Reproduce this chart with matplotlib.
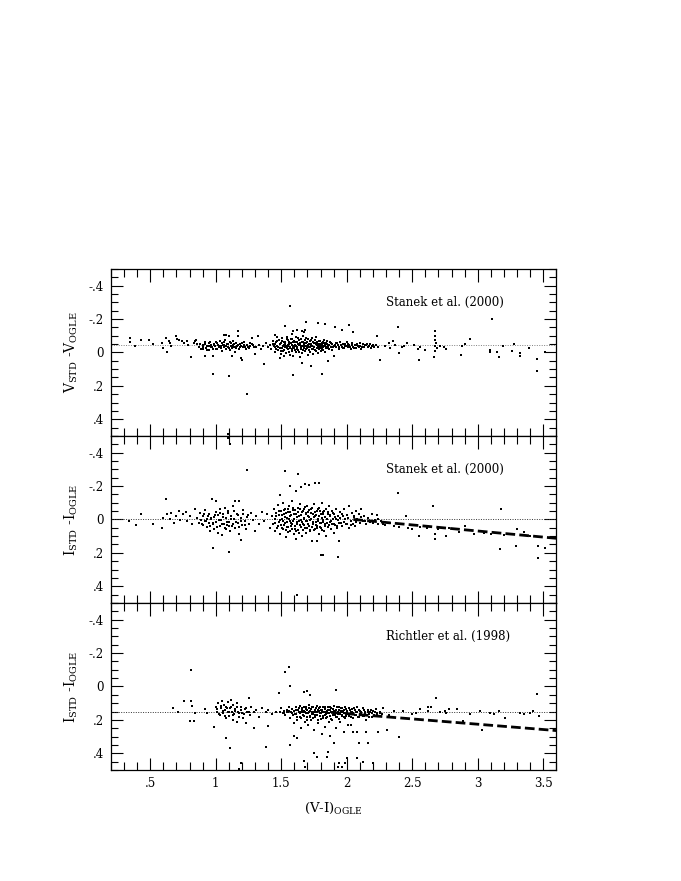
import numpy as np
import matplotlib
matplotlib.use('Agg')
import matplotlib.pyplot as plt
from matplotlib.ticker import MultipleLocator, FuncFormatter

plt.rcParams['font.family'] = ['DejaVu Serif']
plt.rcParams['mathtext.fontset'] = 'dejavuserif'

# V_STD - V_OGLE vs (V-I), Stanek et al. (2000)
v_pts = [
    (0.345, -0.086), (0.345, -0.062), (0.38, -0.04), (0.43, -0.077), (0.49, -0.077), (0.52, -0.05),
    (0.59, -0.055), (0.60, -0.026), (0.62, -0.086), (0.64, -0.066), (0.65, -0.056), (0.66, -0.036),
    (0.63, 0.0), (0.70, -0.10), (0.705, -0.08), (0.72, -0.075), (0.74, -0.066), (0.76, -0.056),
    (0.78, -0.066), (0.79, -0.046), (0.81, 0.03), (0.83, -0.058), (0.84, -0.07), (0.85, -0.074),
    (0.86, -0.05),
    (0.87, -0.03), (0.88, -0.052), (0.885, -0.02), (0.90, -0.045), (0.905, -0.035), (0.915, -0.06),
    (0.92, 0.024), (0.925, -0.028), (0.935, -0.04), (0.945, -0.015), (0.95, -0.055), (0.96, -0.032),
    (0.965, -0.046), (0.975, -0.022), (0.98, 0.128), (0.98, 0.024), (0.985, -0.05), (0.995, -0.036),
    (1.0, -0.064), (1.01, -0.018), (1.015, -0.044), (1.025, -0.03), (1.03, -0.07), (1.04, -0.04),
    (1.045, -0.01), (1.05, -0.056), (1.06, -0.106), (1.06, -0.03), (1.065, -0.046), (1.07, -0.076),
    (1.075, -0.02), (1.08, -0.106), (1.085, -0.05), (1.09, -0.034), (1.09, 0.49), (1.10, -0.096),
    (1.10, 0.14), (1.105, -0.06), (1.11, -0.014), (1.115, -0.04), (1.12, 0.024), (1.125, -0.026),
    (1.13, -0.068), (1.135, -0.046), (1.145, -0.03), (1.15, 0.0), (1.155, -0.056), (1.165, -0.036),
    (1.17, -0.126), (1.17, -0.10), (1.175, -0.02), (1.185, -0.05), (1.19, 0.034), (1.195, -0.04),
    (1.20, 0.044), (1.205, -0.03), (1.215, -0.06), (1.225, -0.035), (1.235, -0.046), (1.24, 0.248),
    (1.25, -0.024), (1.26, -0.04), (1.275, -0.052), (1.28, -0.086), (1.29, -0.034), (1.30, 0.01),
    (1.31, -0.03), (1.32, -0.096), (1.33, -0.046), (1.345, -0.02), (1.36, -0.04), (1.37, 0.068),
    (1.38, -0.056), (1.395, -0.03), (1.41, -0.046), (1.42, -0.02),
    (1.435, -0.05), (1.44, -0.07), (1.45, -0.03), (1.45, -0.106), (1.455, 0.0), (1.46, -0.06),
    (1.465, -0.09), (1.47, -0.04), (1.475, -0.015), (1.48, -0.075), (1.49, 0.034), (1.49, -0.025),
    (1.495, -0.055), (1.50, 0.01), (1.505, -0.085), (1.51, -0.04), (1.515, -0.01), (1.52, 0.024),
    (1.52, -0.065), (1.525, -0.03), (1.53, -0.16), (1.53, -0.05), (1.535, 0.005), (1.54, -0.08),
    (1.545, -0.095), (1.55, -0.045), (1.555, -0.02), (1.56, -0.065), (1.565, 0.015), (1.57, -0.28),
    (1.57, -0.035), (1.575, -0.055), (1.58, -0.11), (1.58, -0.01), (1.585, -0.08), (1.59, 0.02),
    (1.59, -0.13), (1.59, 0.134), (1.595, -0.04), (1.60, -0.025), (1.605, -0.06), (1.61, 0.0),
    (1.615, -0.09), (1.62, -0.136), (1.62, -0.03), (1.625, -0.05), (1.63, -0.015), (1.635, -0.075),
    (1.64, 0.025), (1.645, -0.045), (1.65, -0.02), (1.655, -0.065), (1.66, -0.126), (1.66, 0.064),
    (1.66, 0.005), (1.665, -0.1), (1.67, -0.035), (1.67, -0.12), (1.675, -0.055), (1.68, -0.136),
    (1.68, -0.01), (1.685, -0.085), (1.69, -0.184), (1.69, -0.04), (1.695, -0.025), (1.70, -0.06),
    (1.705, 0.015), (1.71, -0.03), (1.715, -0.05), (1.72, -0.005), (1.725, -0.075), (1.73, 0.08),
    (1.73, -0.04), (1.735, -0.02), (1.74, -0.065), (1.745, 0.01), (1.75, -0.035), (1.755, -0.055),
    (1.76, -0.015), (1.765, -0.09), (1.77, -0.045), (1.775, -0.025), (1.78, -0.176), (1.78, 0.005),
    (1.785, -0.07), (1.79, -0.03), (1.795, -0.05), (1.80, -0.01), (1.805, -0.04), (1.81, 0.13),
    (1.81, -0.02), (1.815, -0.065), (1.82, -0.035), (1.825, -0.055), (1.83, -0.172), (1.83, 0.0),
    (1.835, -0.045), (1.84, -0.025), (1.85, -0.07), (1.855, -0.04), (1.86, 0.052), (1.865, -0.02),
    (1.87, -0.06), (1.88, -0.035), (1.885, -0.05), (1.89, -0.015), (1.90, -0.04), (1.905, 0.02),
    (1.91, -0.152), (1.915, -0.055), (1.92, -0.03), (1.93, -0.045), (1.94, -0.02), (1.95, -0.06),
    (1.96, -0.136), (1.96, -0.035), (1.97, -0.05), (1.98, -0.025), (1.99, -0.04), (2.00, -0.06),
    (2.01, -0.03), (2.02, -0.166), (2.02, -0.045), (2.03, -0.02), (2.04, -0.055), (2.05, -0.122),
    (2.05, -0.035), (2.06, -0.045), (2.07, -0.025), (2.08, -0.05), (2.09, -0.035), (2.10, -0.04),
    (2.11, -0.02), (2.12, -0.05), (2.13, -0.035), (2.145, -0.045), (2.16, -0.03), (2.175, -0.05),
    (2.19, -0.04), (2.205, -0.03), (2.22, -0.045), (2.23, -0.10), (2.24, -0.035), (2.25, 0.044),
    (2.29, -0.036), (2.32, -0.056), (2.33, -0.026), (2.35, -0.066), (2.37, -0.046), (2.39, -0.15),
    (2.40, 0.004), (2.42, -0.032), (2.44, -0.04), (2.46, -0.056), (2.51, -0.046), (2.54, -0.02),
    (2.55, 0.044), (2.56, -0.032), (2.60, -0.016), (2.67, -0.126), (2.67, -0.096), (2.675, -0.076),
    (2.68, -0.056), (2.67, -0.04), (2.685, -0.026), (2.67, -0.006), (2.665, 0.03), (2.71, -0.036),
    (2.74, -0.03), (2.76, -0.02), (2.87, 0.014), (2.88, -0.036), (2.90, -0.052), (2.94, -0.082),
    (3.09, 0.0), (3.095, -0.016), (3.11, -0.202), (3.15, -0.002), (3.16, 0.03), (3.19, -0.036),
    (3.26, -0.006), (3.28, -0.052), (3.32, 0.004), (3.325, 0.024), (3.39, -0.026), (3.45, 0.04),
    (3.45, 0.11), (3.51, 0.0),
]
# extra stars in the dense core of the top panel
v_core = [
    (0.902, -0.022), (0.918, -0.048), (0.931, -0.012), (0.947, -0.038), (0.958, -0.062), (0.972, -0.03),
    (0.988, -0.042), (1.002, -0.018), (1.012, -0.056), (1.027, -0.038), (1.038, -0.024), (1.052, -0.044),
    (1.063, -0.064), (1.078, -0.036), (1.092, -0.052), (1.103, -0.028), (1.118, -0.058), (1.128, -0.034),
    (1.142, -0.05), (1.158, -0.024), (1.168, -0.044), (1.182, -0.032), (1.198, -0.056), (1.212, -0.042),
    (1.228, -0.022), (1.243, -0.034), (1.262, -0.058), (1.285, -0.046),
    (1.442, -0.038), (1.452, -0.052), (1.462, -0.022), (1.468, -0.066), (1.478, -0.034), (1.487, -0.048),
    (1.497, -0.008), (1.502, -0.07), (1.508, -0.028), (1.517, -0.046), (1.523, -0.014), (1.532, -0.062),
    (1.538, -0.036), (1.543, -0.024), (1.548, -0.072), (1.553, -0.04), (1.558, -0.004), (1.562, -0.052),
    (1.568, -0.028), (1.573, -0.078), (1.578, -0.042), (1.583, -0.018), (1.588, -0.06), (1.593, -0.03),
    (1.598, -0.07), (1.602, -0.046), (1.607, -0.012), (1.612, -0.038), (1.617, -0.064), (1.622, -0.022),
    (1.627, -0.086), (1.632, -0.044), (1.637, -0.004), (1.642, -0.058), (1.647, -0.03), (1.652, -0.078),
    (1.657, -0.04), (1.662, -0.016), (1.667, -0.062), (1.672, -0.028), (1.677, -0.046), (1.682, -0.072),
    (1.687, -0.018), (1.692, -0.054), (1.697, -0.036), (1.702, -0.08), (1.707, -0.044), (1.712, -0.012),
    (1.717, -0.066), (1.722, -0.03), (1.727, -0.052), (1.732, -0.084), (1.737, -0.04), (1.742, -0.022),
    (1.748, -0.058), (1.753, -0.032), (1.758, -0.072), (1.763, -0.048), (1.768, -0.01), (1.773, -0.06),
    (1.778, -0.038), (1.783, -0.052), (1.788, -0.018), (1.793, -0.068), (1.798, -0.042), (1.803, -0.028),
    (1.808, -0.056), (1.813, -0.044), (1.818, -0.012), (1.823, -0.076), (1.828, -0.038), (1.838, -0.058),
    (1.843, -0.03), (1.848, -0.05), (1.858, -0.028), (1.868, -0.046), (1.878, -0.056), (1.893, -0.03),
    (1.908, -0.046), (1.923, -0.058), (1.938, -0.034), (1.953, -0.044), (1.968, -0.026), (1.983, -0.052),
    (1.998, -0.038), (2.013, -0.05), (2.028, -0.034), (2.043, -0.042), (2.058, -0.028), (2.073, -0.046),
    (2.088, -0.038), (2.103, -0.054), (2.118, -0.032), (2.138, -0.042), (2.155, -0.05), (2.17, -0.036),
    (2.185, -0.028), (2.2, -0.046),
]

# I_STD - I_OGLE vs (V-I), Stanek et al. (2000)
i1_pts = [
    (0.34, 0.01), (0.39, 0.035), (0.43, -0.03), (0.52, 0.025), (0.59, 0.05), (0.60, -0.01),
    (0.62, -0.12), (0.63, -0.03), (0.65, 0.0), (0.66, -0.04), (0.68, 0.02), (0.70, -0.02),
    (0.72, -0.05), (0.73, 0.005), (0.75, -0.03), (0.77, -0.045), (0.78, 0.01), (0.80, -0.02),
    (0.82, 0.03), (0.84, -0.06),
    (0.86, -0.01), (0.87, 0.02), (0.88, -0.04), (0.89, 0.005), (0.90, 0.035), (0.905, -0.02),
    (0.915, 0.01), (0.92, -0.055), (0.93, 0.045), (0.935, -0.005), (0.945, 0.02), (0.95, -0.035),
    (0.955, 0.07), (0.965, 0.0), (0.97, -0.12), (0.975, 0.03), (0.98, 0.17), (0.985, -0.015),
    (0.99, 0.055), (1.0, -0.11), (1.0, -0.045), (1.005, 0.015), (1.015, 0.08), (1.02, -0.025),
    (1.03, 0.04), (1.035, -0.06), (1.04, 0.005), (1.05, 0.095), (1.055, -0.03), (1.06, 0.025),
    (1.07, -0.07), (1.075, 0.06), (1.08, -0.01), (1.085, 0.035), (1.09, -0.49), (1.095, -0.05),
    (1.10, 0.195), (1.10, 0.015), (1.11, -0.45), (1.11, 0.07), (1.115, -0.02), (1.125, 0.04),
    (1.13, -0.08), (1.14, 0.0), (1.15, -0.11), (1.15, 0.05), (1.16, -0.035), (1.17, 0.02),
    (1.18, -0.11), (1.18, 0.085), (1.19, 0.125), (1.19, -0.01), (1.20, 0.035), (1.21, -0.055),
    (1.22, 0.01), (1.23, 0.06), (1.24, -0.295), (1.245, -0.025), (1.255, 0.03), (1.27, -0.04),
    (1.285, 0.005), (1.30, 0.07), (1.31, -0.02), (1.33, 0.03), (1.35, -0.045), (1.37, 0.01),
    (1.39, -0.03), (1.41, 0.05),
    (1.43, -0.02), (1.44, 0.03), (1.445, -0.06), (1.45, 0.07), (1.455, 0.0), (1.46, -0.04),
    (1.47, 0.05), (1.475, -0.085), (1.48, 0.015), (1.485, -0.025), (1.49, -0.145), (1.49, 0.09),
    (1.495, -0.05), (1.50, 0.035), (1.505, -0.005), (1.51, -0.1), (1.515, 0.06), (1.52, -0.03),
    (1.525, 0.02), (1.53, -0.29), (1.53, -0.065), (1.535, 0.105), (1.54, -0.01), (1.545, 0.045),
    (1.55, -0.045), (1.555, 0.075), (1.56, -0.08), (1.565, 0.01), (1.57, -0.2), (1.57, -0.02),
    (1.575, 0.04), (1.58, -0.11), (1.585, 0.025), (1.59, -0.055), (1.595, 0.085), (1.60, -0.005),
    (1.605, 0.055), (1.61, -0.17), (1.61, -0.035), (1.615, 0.12), (1.62, 0.455), (1.62, 0.015),
    (1.625, -0.07), (1.63, -0.27), (1.63, 0.065), (1.635, -0.02), (1.64, 0.035), (1.645, -0.095),
    (1.65, -0.195), (1.65, 0.005), (1.655, -0.045), (1.66, 0.1), (1.665, 0.025), (1.67, -0.06),
    (1.675, -0.01), (1.68, -0.21), (1.68, 0.05), (1.685, -0.03), (1.69, 0.08), (1.695, -0.08),
    (1.70, 0.01), (1.705, -0.045), (1.71, -0.205), (1.71, 0.04), (1.715, -0.015), (1.72, 0.065),
    (1.725, -0.065), (1.73, 0.0), (1.735, 0.13), (1.74, -0.035), (1.745, 0.03), (1.75, -0.09),
    (1.755, 0.055), (1.76, -0.22), (1.76, -0.02), (1.765, 0.015), (1.77, 0.13), (1.77, -0.05),
    (1.775, 0.04), (1.78, -0.005), (1.785, 0.085), (1.79, -0.22), (1.79, -0.07), (1.795, 0.02),
    (1.80, 0.215), (1.80, -0.03), (1.805, 0.05), (1.81, -0.1), (1.815, 0.005), (1.82, 0.21),
    (1.82, -0.045), (1.825, 0.07), (1.83, -0.015), (1.835, 0.03), (1.84, -0.06), (1.845, 0.1),
    (1.85, 0.0), (1.855, -0.035), (1.86, 0.045), (1.865, -0.08), (1.87, 0.015), (1.875, -0.02),
    (1.88, 0.06), (1.885, -0.05), (1.89, 0.025), (1.895, -0.005), (1.90, 0.08), (1.905, -0.03),
    (1.91, 0.035), (1.915, -0.065), (1.92, 0.0), (1.925, 0.05), (1.93, 0.225), (1.93, -0.02),
    (1.94, 0.13), (1.94, 0.02), (1.945, -0.045),
    (1.95, -0.01), (1.96, 0.04), (1.965, -0.035), (1.975, 0.015), (1.98, -0.06), (1.99, 0.0),
    (2.0, 0.03), (2.005, -0.025), (2.015, 0.05), (2.02, -0.08), (2.03, 0.01), (2.04, -0.04),
    (2.045, 0.025), (2.055, -0.015), (2.065, 0.04), (2.07, -0.05), (2.08, 0.0), (2.09, -0.03),
    (2.10, 0.02), (2.11, -0.06), (2.12, 0.01), (2.135, -0.02), (2.15, 0.03), (2.16, -0.01),
    (2.175, 0.015), (2.19, -0.035), (2.20, 0.02), (2.215, 0.005), (2.23, -0.025), (2.24, 0.03),
    (2.26, 0.01), (2.28, 0.025),
    (2.24, 0.0), (2.29, 0.035), (2.33, 0.02), (2.36, 0.04), (2.39, -0.16), (2.40, 0.045),
    (2.45, -0.02), (2.47, 0.05), (2.50, 0.06), (2.55, 0.1), (2.56, 0.045), (2.61, 0.05),
    (2.66, -0.08), (2.67, 0.09), (2.67, 0.12), (2.70, 0.055), (2.76, 0.1), (2.78, 0.05),
    (2.86, 0.075), (2.90, 0.04), (2.97, 0.09), (3.05, 0.08), (3.10, 0.09), (3.17, 0.175),
    (3.18, -0.06), (3.20, 0.095), (3.28, 0.09), (3.29, 0.16), (3.30, 0.06), (3.35, 0.075),
    (3.40, 0.1), (3.46, 0.16), (3.46, 0.23), (3.51, 0.17),
]
i1_core = [
    (0.892, 0.028), (0.908, -0.032), (0.922, 0.012), (0.938, -0.018), (0.952, 0.042), (0.962, -0.008),
    (0.978, 0.022), (0.992, -0.028), (1.008, 0.048), (1.022, 0.004), (1.032, -0.04), (1.048, 0.03),
    (1.058, -0.012), (1.068, 0.052), (1.082, 0.018), (1.092, -0.036), (1.102, 0.038), (1.118, -0.004),
    (1.132, 0.026), (1.142, -0.05), (1.158, 0.014), (1.168, -0.024), (1.178, 0.044), (1.192, 0.008),
    (1.208, -0.03), (1.222, 0.032), (1.238, -0.012),
    (1.452, 0.022), (1.462, -0.018), (1.472, 0.038), (1.482, -0.048), (1.492, 0.004), (1.502, -0.028),
    (1.507, 0.052), (1.512, 0.012), (1.518, -0.058), (1.523, 0.034), (1.528, -0.012), (1.533, 0.066),
    (1.538, -0.038), (1.543, 0.018), (1.548, -0.062), (1.553, 0.044), (1.558, -0.004), (1.563, 0.072),
    (1.568, -0.046), (1.572, 0.022), (1.577, -0.024), (1.582, 0.058), (1.587, -0.07), (1.592, 0.008),
    (1.597, -0.032), (1.602, 0.04), (1.607, -0.056), (1.612, 0.068), (1.617, -0.014), (1.622, 0.028),
    (1.627, -0.042), (1.632, 0.01), (1.637, 0.082), (1.642, -0.064), (1.647, 0.046), (1.652, -0.026),
    (1.657, 0.018), (1.662, -0.05), (1.667, 0.062), (1.672, -0.004), (1.677, 0.034), (1.682, -0.072),
    (1.687, 0.012), (1.692, -0.036), (1.697, 0.054), (1.702, -0.022), (1.707, 0.026), (1.712, -0.058),
    (1.717, 0.072), (1.722, 0.004), (1.727, -0.038), (1.732, 0.044), (1.737, -0.066), (1.742, 0.014),
    (1.747, -0.012), (1.752, 0.062), (1.757, -0.044), (1.762, 0.032), (1.767, -0.028), (1.772, 0.05),
    (1.777, -0.06), (1.782, 0.008), (1.787, -0.02), (1.792, 0.044), (1.797, -0.048), (1.802, 0.024),
    (1.807, -0.008), (1.812, 0.064), (1.817, -0.034), (1.822, 0.016), (1.827, -0.052), (1.832, 0.038),
    (1.837, -0.014), (1.847, 0.022), (1.857, -0.046), (1.862, 0.034), (1.872, -0.028), (1.882, 0.012),
    (1.892, -0.038), (1.902, 0.026), (1.912, -0.016), (1.922, 0.042), (1.932, 0.006), (1.952, 0.022),
    (1.972, -0.018), (1.992, 0.028), (2.012, -0.008), (2.032, 0.034), (2.052, -0.022), (2.072, 0.014),
    (2.092, 0.006), (2.112, -0.012), (2.142, 0.008),
]

# I_STD - I_OGLE vs (V-I), Richtler et al. (1998)
i2_pts = [
    (0.67, 0.126), (0.71, 0.152), (0.76, 0.086), (0.81, -0.10), (0.81, 0.086), (0.80, 0.205),
    (0.82, 0.116), (0.83, 0.205), (0.84, 0.16), (0.92, 0.134), (0.93, 0.156), (0.99, 0.24),
    (1.00, 0.12), (1.01, 0.15), (1.02, 0.1), (1.03, 0.17), (1.04, 0.13), (1.05, 0.085),
    (1.055, 0.16), (1.06, 0.11), (1.07, 0.14), (1.075, 0.19), (1.08, 0.31), (1.08, 0.12),
    (1.09, 0.155), (1.095, 0.095), (1.10, 0.175), (1.11, 0.37), (1.11, 0.13), (1.115, 0.08),
    (1.12, 0.15), (1.13, 0.2), (1.135, 0.11), (1.14, 0.165), (1.15, 0.135), (1.16, 0.21),
    (1.165, 0.1), (1.17, 0.15), (1.18, 0.495), (1.18, 0.18), (1.19, 0.46), (1.19, 0.125),
    (1.20, 0.16), (1.21, 0.19), (1.22, 0.135), (1.23, 0.22), (1.24, 0.15), (1.25, 0.07),
    (1.26, 0.17), (1.27, 0.12), (1.29, 0.25), (1.29, 0.155), (1.31, 0.14), (1.33, 0.18),
    (1.35, 0.13), (1.38, 0.36), (1.38, 0.155), (1.40, 0.235), (1.40, 0.14), (1.43, 0.165),
    (1.46, 0.15),
    (1.48, 0.04), (1.49, 0.15), (1.50, 0.13), (1.51, 0.16), (1.52, 0.145), (1.53, -0.084),
    (1.53, 0.17), (1.54, 0.14), (1.55, 0.155), (1.56, -0.114), (1.56, 0.12), (1.565, 0.19),
    (1.57, 0.0), (1.57, 0.35), (1.575, 0.15), (1.58, 0.135), (1.59, 0.17), (1.595, 0.22),
    (1.60, 0.295), (1.60, 0.145), (1.61, 0.125), (1.615, 0.165), (1.62, 0.31), (1.62, 0.2),
    (1.63, 0.14), (1.635, 0.155), (1.64, 0.115), (1.645, 0.18), (1.65, 0.25), (1.65, 0.15),
    (1.66, 0.13), (1.665, 0.17), (1.67, 0.032), (1.67, 0.445), (1.675, 0.145), (1.68, 0.48),
    (1.68, 0.21), (1.685, 0.12), (1.69, 0.16), (1.695, 0.185), (1.70, 0.026), (1.70, 0.14),
    (1.705, 0.23), (1.71, 0.155), (1.715, 0.11), (1.72, 0.05), (1.72, 0.175), (1.725, 0.135),
    (1.73, 0.2), (1.735, 0.15), (1.74, 0.125), (1.745, 0.165), (1.75, 0.40), (1.75, 0.26),
    (1.755, 0.14), (1.76, 0.185), (1.765, 0.155), (1.77, 0.42), (1.77, 0.115), (1.775, 0.17),
    (1.78, 0.22), (1.785, 0.145), (1.79, 0.13), (1.795, 0.16), (1.80, 0.195), (1.805, 0.14),
    (1.81, 0.285), (1.81, 0.155), (1.815, 0.12), (1.82, 0.175), (1.825, 0.15), (1.83, 0.24),
    (1.835, 0.135), (1.84, 0.165), (1.845, 0.19), (1.85, 0.425), (1.85, 0.145), (1.855, 0.12),
    (1.86, 0.39), (1.86, 0.16), (1.865, 0.21), (1.87, 0.295), (1.87, 0.14), (1.875, 0.175),
    (1.88, 0.13), (1.885, 0.155), (1.89, 0.2), (1.90, 0.34), (1.90, 0.145), (1.905, 0.115),
    (1.91, 0.17), (1.915, 0.25), (1.92, 0.022), (1.92, 0.14), (1.925, 0.185), (1.93, 0.485),
    (1.93, 0.155), (1.94, 0.46), (1.94, 0.125), (1.945, 0.165), (1.95, 0.21), (1.955, 0.145),
    (1.96, 0.48), (1.96, 0.13), (1.965, 0.175), (1.97, 0.155), (1.975, 0.27), (1.98, 0.14),
    (1.985, 0.19), (1.99, 0.46), (1.99, 0.12), (2.0, 0.43), (2.0, 0.16), (2.005, 0.145),
    (2.01, 0.23), (2.015, 0.13), (2.02, 0.175), (2.03, 0.23), (2.03, 0.15), (2.04, 0.135),
    (2.045, 0.19), (2.05, 0.275), (2.05, 0.16), (2.06, 0.14), (2.07, 0.17), (2.075, 0.125),
    (2.08, 0.43), (2.08, 0.275), (2.08, 0.155), (2.09, 0.34), (2.09, 0.185), (2.10, 0.145),
    (2.11, 0.165), (2.12, 0.455), (2.12, 0.13), (2.13, 0.175), (2.14, 0.15), (2.15, 0.275),
    (2.15, 0.2), (2.16, 0.34), (2.16, 0.14), (2.17, 0.165), (2.18, 0.155), (2.19, 0.18),
    (2.20, 0.46), (2.20, 0.145), (2.21, 0.17), (2.22, 0.135), (2.23, 0.16), (2.24, 0.275),
    (2.24, 0.175), (2.25, 0.15), (2.27, 0.165), (2.28, 0.13), (2.31, 0.26), (2.32, 0.17),
    (2.36, 0.146), (2.40, 0.305), (2.43, 0.146), (2.50, 0.166), (2.53, 0.156), (2.56, 0.136),
    (2.62, 0.146), (2.62, 0.12), (2.64, 0.12), (2.68, 0.07), (2.71, 0.152), (2.75, 0.146),
    (2.76, 0.156), (2.78, 0.136), (2.84, 0.136), (2.89, 0.206), (2.94, 0.166), (3.02, 0.146),
    (3.03, 0.26), (3.09, 0.156), (3.12, 0.166), (3.16, 0.146), (3.21, 0.19), (3.32, 0.156),
    (3.35, 0.166), (3.40, 0.156), (3.42, 0.146), (3.45, 0.045), (3.47, 0.176),
]
i2_core = [
    (1.012, 0.135), (1.028, 0.165), (1.042, 0.115), (1.058, 0.145), (1.072, 0.175), (1.088, 0.13),
    (1.102, 0.155), (1.118, 0.12), (1.132, 0.17), (1.148, 0.145), (1.162, 0.125), (1.178, 0.16),
    (1.192, 0.14), (1.212, 0.165), (1.232, 0.13), (1.252, 0.155),
    (1.522, 0.16), (1.542, 0.155), (1.562, 0.145), (1.582, 0.16), (1.602, 0.165), (1.612, 0.14),
    (1.622, 0.18), (1.632, 0.13), (1.642, 0.16), (1.652, 0.19), (1.657, 0.14), (1.662, 0.155),
    (1.672, 0.125), (1.677, 0.175), (1.682, 0.15), (1.692, 0.135), (1.697, 0.2), (1.702, 0.16),
    (1.712, 0.13), (1.717, 0.18), (1.722, 0.145), (1.732, 0.165), (1.737, 0.12), (1.742, 0.19),
    (1.752, 0.15), (1.757, 0.17), (1.762, 0.13), (1.772, 0.155), (1.777, 0.2), (1.782, 0.14),
    (1.792, 0.175), (1.797, 0.125), (1.802, 0.16), (1.812, 0.14), (1.817, 0.19), (1.822, 0.15),
    (1.832, 0.17), (1.837, 0.125), (1.842, 0.155), (1.852, 0.18), (1.857, 0.14), (1.862, 0.16),
    (1.872, 0.125), (1.877, 0.195), (1.882, 0.15), (1.892, 0.17), (1.897, 0.135), (1.902, 0.16),
    (1.912, 0.145), (1.917, 0.18), (1.922, 0.125), (1.932, 0.165), (1.937, 0.14), (1.942, 0.195),
    (1.952, 0.155), (1.957, 0.13), (1.962, 0.17), (1.972, 0.145), (1.977, 0.185), (1.982, 0.16),
    (1.992, 0.135), (1.997, 0.175), (2.002, 0.15), (2.012, 0.165), (2.022, 0.14), (2.032, 0.18),
    (2.042, 0.155), (2.052, 0.13), (2.062, 0.17), (2.072, 0.15), (2.082, 0.185), (2.092, 0.14),
    (2.102, 0.165), (2.112, 0.155), (2.122, 0.175), (2.132, 0.14), (2.142, 0.16), (2.152, 0.17),
    (2.162, 0.15), (2.172, 0.18), (2.182, 0.14), (2.192, 0.16), (2.212, 0.155), (2.232, 0.17),
    (2.252, 0.16),
]

# mean offsets (dotted) and colour terms (dashed)
offsets = [-0.042, 0.0, 0.153]
trend_x = [None, [2.05, 3.6], [1.88, 3.6]]
trend_y = [None, [0.0, 0.113], [0.155, 0.264]]
sources = ['Stanek et al. (2000)', 'Stanek et al. (2000)', 'Richtler et al. (1998)']
ylabels = [r'V$_{\rm STD}$ -V$_{\rm OGLE}$', r'I$_{\rm STD}$ -I$_{\rm OGLE}$', r'I$_{\rm STD}$ -I$_{\rm OGLE}$']
dot_colors = ['0.5', '0.2', '0.2']


def nolead(v, pos):
    s = '%g' % v
    if s.startswith('0.'):
        s = s[1:]
    elif s.startswith('-0.'):
        s = '-' + s[2:]
    return s


fig = plt.figure(figsize=(6.81, 8.81), dpi=100)
left, width = 0.163, 0.654
h = 0.1896
bottoms = [0.126 + 2 * h, 0.126 + h, 0.126]
panels = [v_pts + v_core, i1_pts + i1_core, i2_pts + i2_core]

for k, pts in enumerate(panels):
    ax = fig.add_axes([left, bottoms[k], width, h])
    xs, ys = np.array(pts).T
    ax.scatter(xs, ys, s=4.5, c='k', marker='s', linewidths=0, zorder=3)
    ax.axhline(offsets[k], color=dot_colors[k], ls=(0, (1, 1.5)), lw=0.7, zorder=2)
    if trend_x[k] is not None:
        ax.plot(trend_x[k], trend_y[k], color='k', ls=(0, (3.5, 1.5)), lw=2.0, zorder=4)

    ax.set_xlim(0.2, 3.6)
    ax.set_ylim(0.5, -0.5)
    ax.xaxis.set_major_locator(MultipleLocator(0.5))
    ax.xaxis.set_minor_locator(MultipleLocator(0.1))
    ax.yaxis.set_major_locator(MultipleLocator(0.2))
    ax.yaxis.set_minor_locator(MultipleLocator(0.05))
    ax.xaxis.set_major_formatter(FuncFormatter(nolead))
    ax.yaxis.set_major_formatter(FuncFormatter(nolead))
    ax.tick_params(which='both', direction='in', top=True, right=True, width=0.8,
                   labelsize=8.5, pad=5)
    ax.tick_params(which='major', axis='x', length=9)
    ax.tick_params(which='minor', axis='x', length=6)
    ax.tick_params(which='major', axis='y', length=8.5)
    ax.tick_params(which='minor', axis='y', length=5)
    for sp in ax.spines.values():
        sp.set_linewidth(0.9)
    if k < 2:
        ax.tick_params(axis='x', labelbottom=False)
    else:
        ax.set_xlabel(r'(V-I)$_{\rm OGLE}$', fontsize=9.5, labelpad=8)

    ax.set_ylabel(ylabels[k], fontsize=10, labelpad=6)
    ax.text(2.3, -0.3, sources[k], fontsize=8.5, va='center', ha='left')

fig.savefig('out.png', dpi=100)
